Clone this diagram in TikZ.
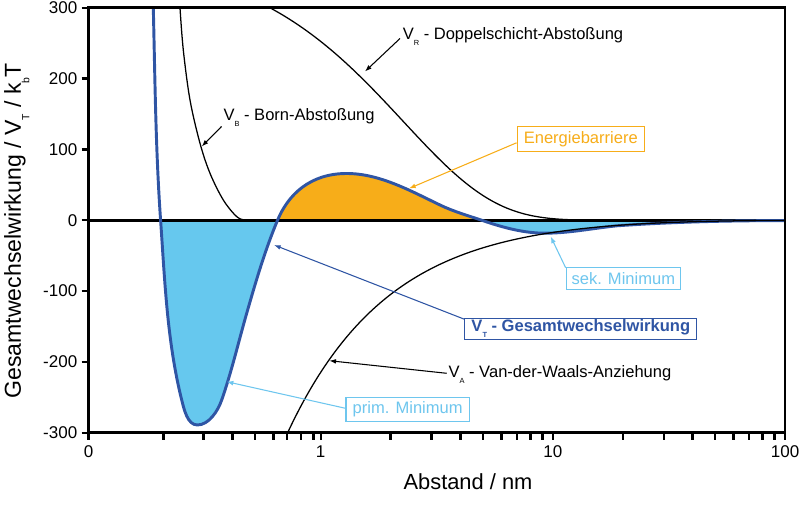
\documentclass[tikz,border=0pt]{standalone}
\usepackage{fontspec}
\setmainfont{Liberation Sans}
\usepackage{graphicx}
\usetikzlibrary{arrows.meta,calc}
\definecolor{vtblue}{RGB}{47,85,164}
\definecolor{wellblue}{RGB}{102,200,238}
\definecolor{annblue}{RGB}{110,198,238}
\definecolor{barrier}{RGB}{247,173,25}
\newcommand\lsub[1]{\raisebox{-0.36em}{\scalebox{0.45}{#1}}}
\begin{document}
\begin{tikzpicture}[x=0.75pt,y=-0.75pt,
  axisline/.style={line width=2pt, line cap=rect},
  tickline/.style={line width=1.8pt},
  thincurve/.style={line width=0.95pt, black},
  vtcurve/.style={line width=2.2pt, vtblue},
  ticklabel/.style={font=\fontsize{12.75}{14}\selectfont, inner sep=0pt},
  axistitle/.style={font=\fontsize{16.4}{18}\selectfont, inner sep=0pt},
  annot/.style={font=\fontsize{12.4}{14}\selectfont, inner sep=0pt},
  boxlabel/.style={font=\fontsize{12.4}{14}\selectfont, draw, line width=0.9pt, fill=white, inner xsep=5pt, inner ysep=1pt, minimum height=17pt},
  arr/.style={-{Latex[length=5pt,width=3.6pt]}, line width=0.8pt},
]
\useasboundingbox (0,0) rectangle (800,523);

% ---------- fills between V_T and zero line ----------
\begin{scope}
\clip (88.5,220.3) rectangle (785,432.8);
\fill[wellblue] (153.3,7.8) .. controls (155.0,78.7) and (155.65,149.6) .. (160.6,220.3)
 .. controls (164.8,280.5) and (167.1,341.5) .. (181.7,400)
 .. controls (184.1,409.5) and (187.5,425) .. (197.3,425)
 .. controls (208.9,425) and (217.9,411.0) .. (221.7,400)
 .. controls (231.6,371.6) and (238.4,342.2) .. (246.7,313.3)
 .. controls (255.7,281.9) and (264.9,250.5) .. (277.5,220.3)
 .. controls (288.2,194.6) and (310,173.5) .. (346.7,173.5)
 .. controls (379.5,173.5) and (410.4,190.8) .. (440,205)
 .. controls (453.9,211.7) and (468.7,215.8) .. (483.3,220.8)
 .. controls (503.2,227.6) and (524,233.2) .. (545,233.2)
 .. controls (569.1,233.2) and (593,228.2) .. (617,225.8)
 .. controls (672.9,221.9) and (729,220.6) .. (785,220.6)
 -- (785,220.3) -- (153.3,220.3) -- cycle;
\end{scope}
\begin{scope}
\clip (200,7.8) rectangle (785,220.3);
\fill[barrier] (153.3,7.8) .. controls (155.0,78.7) and (155.65,149.6) .. (160.6,220.3)
 .. controls (164.8,280.5) and (167.1,341.5) .. (181.7,400)
 .. controls (184.1,409.5) and (187.5,425) .. (197.3,425)
 .. controls (208.9,425) and (217.9,411.0) .. (221.7,400)
 .. controls (231.6,371.6) and (238.4,342.2) .. (246.7,313.3)
 .. controls (255.7,281.9) and (264.9,250.5) .. (277.5,220.3)
 .. controls (288.2,194.6) and (310,173.5) .. (346.7,173.5)
 .. controls (379.5,173.5) and (410.4,190.8) .. (440,205)
 .. controls (453.9,211.7) and (468.7,215.8) .. (483.3,220.8)
 .. controls (503.2,227.6) and (524,233.2) .. (545,233.2)
 .. controls (569.1,233.2) and (593,228.2) .. (617,225.8)
 .. controls (672.9,221.9) and (729,220.6) .. (785,220.6)
 -- (785,220.3) -- (153.3,220.3) -- cycle;
\end{scope}

% ---------- zero line ----------
\draw[axisline] (88.5,220.3) -- (785,220.3);

% ---------- curves ----------
\begin{scope}
\clip (88.5,7.8) rectangle (785,432.8);
\draw[vtcurve] (153.3,7.8) .. controls (155.0,78.7) and (155.65,149.6) .. (160.6,220.3)
 .. controls (164.8,280.5) and (167.1,341.5) .. (181.7,400)
 .. controls (184.1,409.5) and (187.5,425) .. (197.3,425)
 .. controls (208.9,425) and (217.9,411.0) .. (221.7,400)
 .. controls (231.6,371.6) and (238.4,342.2) .. (246.7,313.3)
 .. controls (255.7,281.9) and (264.9,250.5) .. (277.5,220.3)
 .. controls (288.2,194.6) and (310,173.5) .. (346.7,173.5)
 .. controls (379.5,173.5) and (410.4,190.8) .. (440,205)
 .. controls (453.9,211.7) and (468.7,215.8) .. (483.3,220.8)
 .. controls (503.2,227.6) and (524,233.2) .. (545,233.2)
 .. controls (569.1,233.2) and (593,228.2) .. (617,225.8)
 .. controls (672.9,221.9) and (729,220.6) .. (785,220.6);
% V_B Born
\draw[thincurve] plot[smooth, tension=0.55] coordinates {(180,7.8) (183.3,50) (190,100) (200,143.3) (210,173.3) (223.3,200) (236.7,216.6) (246,220.3) (256,220.3)};
% V_R double layer
\draw[thincurve] plot[domain=-0.23:1.3, samples=160, smooth] ({320.7+232.2*\x},{220.3-268.3*exp(-0.4057*pow(10,1.1*\x))});
% V_A van der Waals
\draw[thincurve] plot[domain=-0.16:2, samples=200, smooth] ({320.7+232.2*\x},{220.3+155.83*pow(10,-\x)*exp(-pow(10,\x)/40)});
\end{scope}

% ---------- frame and ticks ----------
\draw[axisline] (88.5,7.8) rectangle (785,432.8);
\foreach \yy in {7.8,78.6,149.5,220.3,291.1,362.0,432.8}
  \draw[tickline] (81.5,\yy) -- (88.5,\yy);
\foreach \xx in {88.5,163.3,203.3,232.3,255,273.3,286.7,301.2,313.3,320.7,
                 390.6,431.5,460.5,483,501.4,517,530.4,542.3,552.9,
                 622.8,663.7,692.6,715.2,733.6,749.1,762.6,774.4,785.1}
  \draw[tickline] (\xx,432.8) -- (\xx,439.8);

% ---------- tick labels ----------
\node[ticklabel, anchor=east] (ly300) at (77.5,7.8) {300};
\node[ticklabel, anchor=east] (ly200) at (77.5,78.6) {200};
\node[ticklabel, anchor=east] (ly100) at (77.5,149.5) {100};
\node[ticklabel, anchor=east] (ly0) at (77.5,220.3) {0};
\node[ticklabel, anchor=east] (lym100) at (77.5,291.1) {-100};
\node[ticklabel, anchor=east] (lym200) at (77.5,362.0) {-200};
\node[ticklabel, anchor=east] (lym300) at (77.5,432.8) {-300};
\node[ticklabel, anchor=base] (lx0) at (88.5,458) {0};
\node[ticklabel, anchor=base] (lx1) at (320.7,458) {1};
\node[ticklabel, anchor=base] (lx10) at (552.9,458) {10};
\node[ticklabel, anchor=base] (lx100) at (785.1,458) {100};

% ---------- axis titles ----------
\node[axistitle, anchor=base] (xtitle) at (468,489.3) {Abstand / nm};
\node[axistitle, anchor=base, rotate=90, font=\fontsize{17.3}{18}\selectfont] (ytitle) at (21,231) {Gesamtwechselwirkung / V\lsub{T} / k\lsub{b}T};

% ---------- plain annotations ----------
\node[annot, anchor=base west] (vr) at (402.5,39.5) {V\lsub{R} - Doppelschicht-Abstoßung};
\coordinate (vrtip) at (365,71.5);
\draw[arr] ($(vr.base west)+(-2.5,-1)$) -- (vrtip);

\node[annot, anchor=base west] (vb) at (223.3,120.5) {V\lsub{B} - Born-Abstoßung};
\coordinate (vbtip) at (201.7,146.5);
\draw[arr] ($(vb.base west)+(-1.8,6)$) -- (vbtip);

\node[annot, anchor=base west] (va) at (448.3,377.3) {V\lsub{A} - Van-der-Waals-Anziehung};
\coordinate (vatip) at (329.3,360.7);
\draw[arr] ($(va.base west)+(-1.6,-4)$) -- (vatip);

% ---------- boxed annotations ----------
\node[boxlabel, draw=vtblue, text=vtblue, font=\fontsize{12.4}{14}\selectfont\bfseries, minimum height=15.8pt] (vt) at (580.8,328.8) {V\lsub{T} - Gesamtwechselwirkung};
\coordinate (vttip) at (274,245);
\draw[arr, vtblue] ($(vt.north west)+(0,1.5)$) -- (vttip);

\node[boxlabel, draw=barrier, text=barrier, minimum height=19pt] (eb) at (580.8,138.8) {Energiebarriere};
\coordinate (ebtip) at (409,188.5);
\draw[arr, barrier] ($(eb.west)+(0,4)$) -- (ebtip);

\node[boxlabel, draw=annblue, text=annblue, minimum height=16.5pt, inner xsep=4pt] (sek) at (623.3,278.3) {sek. Minimum};
\coordinate (sektip) at (550.7,236.5);
\draw[arr, annblue] ($(sek.north west)+(0,1)$) -- (sektip);

\node[boxlabel, draw=annblue, text=annblue, minimum height=18pt] (prim) at (407.7,409.7) {prim. Minimum};
\coordinate (primtip) at (226.7,381.7);
\draw[arr, annblue] ($(prim.west)+(0,-1.4)$) -- (primtip);
\end{tikzpicture}
\end{document}
